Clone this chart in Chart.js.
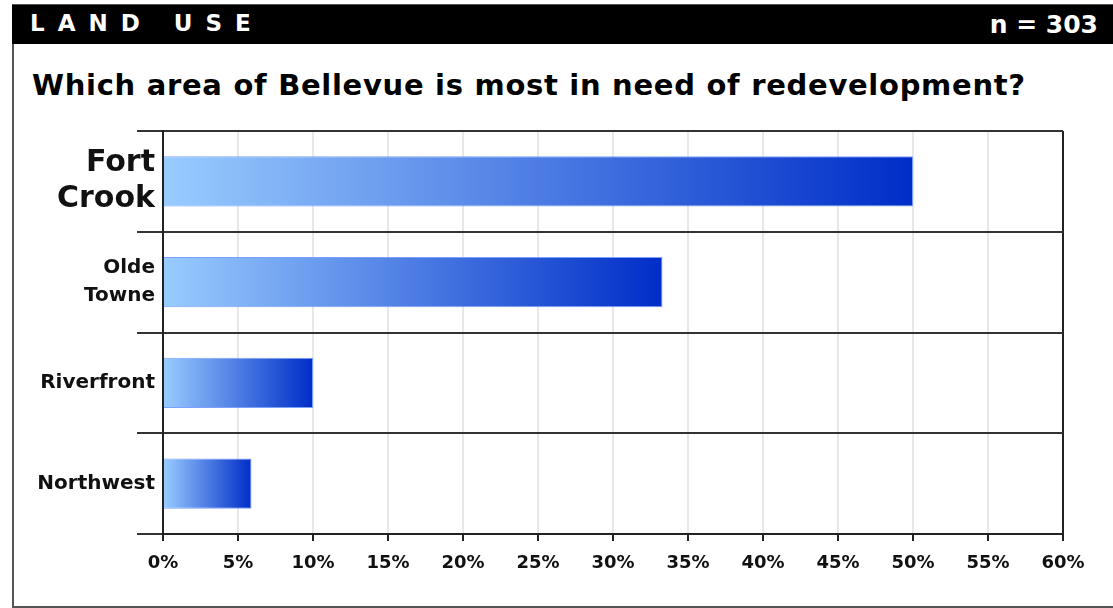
<!DOCTYPE html>
<html>
<head>
<meta charset="utf-8">
<script src="https://cdn.jsdelivr.net/npm/chart.js@4.4.0/dist/chart.umd.min.js"></script>
<style>
  body { margin: 0; background: #fff; font-family: "DejaVu Sans", sans-serif; }
  #page { position: relative; width: 1113px; height: 608px; overflow: hidden; }
  #frame { position: absolute; left: 12px; top: 4px; width: 1120px; height: 600px; border: 2px solid #555; }
  #header { position: absolute; left: 12px; top: 5px; width: 1110px; height: 39px; background: #000; color: #fff; font-weight: bold; }
  #section { position: absolute; left: 18px; top: 5px; font-size: 23px; letter-spacing: 13px; }
  #count { position: absolute; right: 24px; top: 5px; font-size: 25px; }
  #title { position: absolute; left: 32px; top: 68px; font-size: 29px; letter-spacing: 0.7px; font-weight: bold; color: #000; }
  canvas { position: absolute; left: 0; top: 0; }
</style>
</head>
<body>
<div id="page">
  <div id="frame"></div>
  <div id="header"><span id="section">LAND USE</span><span id="count">n = 303</span></div>
  <div id="title">Which area of Bellevue is most in need of redevelopment?</div>
  <canvas id="chart" width="1113" height="608"></canvas>
</div>
<script>
// survey answers, share of respondents (%)
const areas = [["Fort", "Crook"], ["Olde", "Towne"], "Riverfront", "Northwest"];
const shares = [50, 33.3, 10, 5.9];
const xTicks = [0, 5, 10, 15, 20, 25, 30, 35, 40, 45, 50, 55, 60];

const FONT = "'DejaVu Sans', sans-serif";

// each bar gets its own light-to-dark gradient from 0% to its end
function barGradient(ctx) {
  const chart = ctx.chart;
  if (!chart.chartArea || ctx.dataIndex === undefined) return "#3366dd";
  const x = chart.scales.x;
  const x0 = x.getPixelForValue(0);
  const x1 = x.getPixelForValue(shares[ctx.dataIndex]);
  const g = chart.ctx.createLinearGradient(x0, 0, x1, 0);
  g.addColorStop(0, "rgb(153,204,255)");
  g.addColorStop(1, "rgb(0,45,200)");
  return g;
}

new Chart(document.getElementById("chart"), {
  type: "bar",
  data: {
    labels: areas,
    datasets: [{
      data: shares,
      backgroundColor: barGradient,
      borderColor: "rgba(110,150,255,0.9)",
      borderWidth: 1,
      barPercentage: 0.5,
      categoryPercentage: 1
    }]
  },
  options: {
    indexAxis: "y",
    responsive: false,
    animation: false,
    layout: { padding: { top: 131, right: 50, left: 0, bottom: 0 } },
    plugins: { legend: { display: false }, tooltip: { enabled: false } },
    scales: {
      x: {
        min: 0,
        max: 60,
        afterBuildTicks: axis => { axis.ticks = xTicks.map(v => ({ value: v })); },
        afterFit: s => { s.height = 74; },
        grid: {
          color: c => c.index === xTicks.length - 1 ? "#222" : "#e8e8e8",
          lineWidth: 2,
          tickLength: 7,
          tickColor: "#222",
          tickWidth: 2
        },
        border: { color: "#222", width: 2 },
        ticks: {
          callback: v => v + "%",
          font: { family: FONT, size: 18, weight: "bold" },
          color: "#111",
          padding: 12,
          maxRotation: 0,
          autoSkip: false
        }
      },
      y: {
        afterFit: s => { s.width = 163; },
        grid: {
          offset: true,
          color: "#333",
          lineWidth: 2,
          tickLength: 26,
          tickColor: "#333",
          tickWidth: 2
        },
        border: { color: "#222", width: 2 },
        ticks: {
          font: c => c.index === 0
            ? { family: FONT, size: 30, weight: "bold", lineHeight: 1.2 }
            : { family: FONT, size: 20, weight: "bold", lineHeight: 1.4 },
          color: "#111",
          padding: -18,
          autoSkip: false
        }
      }
    }
  }
});
</script>
</body>
</html>
